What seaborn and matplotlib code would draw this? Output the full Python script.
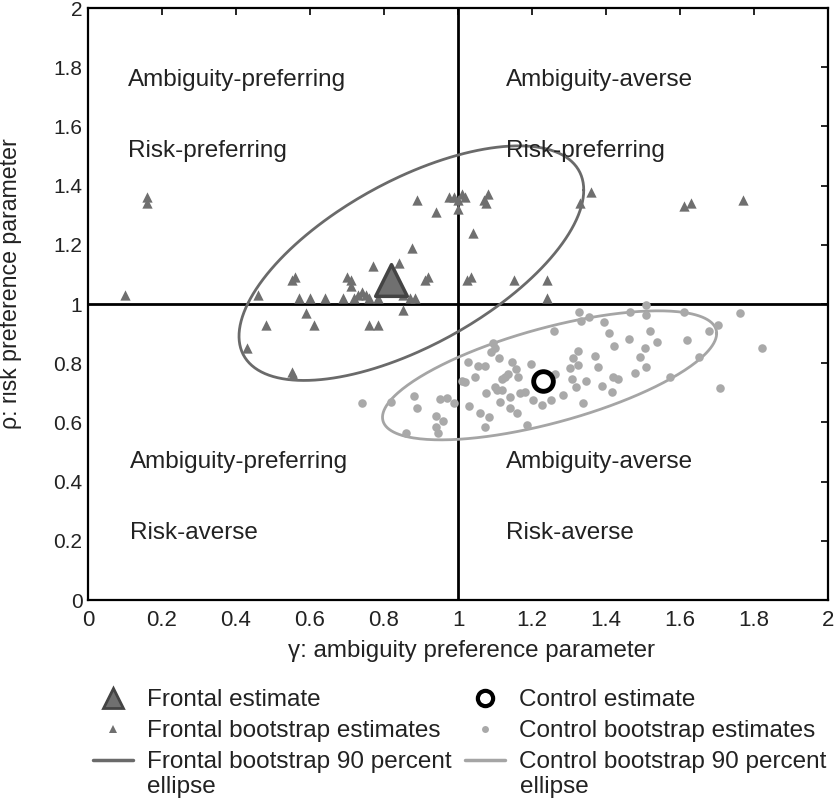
import numpy as np
import pandas as pd
import matplotlib
matplotlib.use("Agg")
import matplotlib.pyplot as plt
from matplotlib.lines import Line2D
import seaborn as sns

# ---------------- data ----------------
frontal_gamma = [0.10, 0.16, 0.16, 0.43, 0.46, 0.48, 0.55, 0.555, 0.55, 0.56, 0.57, 0.59,
                 0.60, 0.61, 0.64, 0.69, 0.70, 0.71, 0.71, 0.72, 0.73, 0.74, 0.75, 0.76,
                 0.785, 0.76, 0.785, 0.77, 0.84, 0.85, 0.85, 0.87, 0.885, 0.875, 0.91, 0.92,
                 0.89, 0.94, 0.975, 0.99, 1.00, 1.01, 1.02, 1.00, 1.07, 1.08, 1.075, 1.04,
                 1.025, 1.035, 1.15, 1.24, 1.24, 1.33, 1.36, 1.61, 1.63, 1.77]
frontal_rho = [1.03, 1.36, 1.34, 0.85, 1.03, 0.93, 0.77, 0.76, 1.08, 1.09, 1.02, 0.97,
               1.02, 0.93, 1.02, 1.02, 1.09, 1.08, 1.06, 1.02, 1.03, 1.04, 1.03, 1.02,
               1.02, 0.93, 0.93, 1.13, 1.14, 1.03, 0.98, 1.02, 1.02, 1.19, 1.08, 1.09,
               1.35, 1.31, 1.36, 1.36, 1.35, 1.37, 1.36, 1.32, 1.35, 1.37, 1.34, 1.24,
               1.08, 1.09, 1.08, 1.08, 1.02, 1.34, 1.38, 1.33, 1.34, 1.35]

control_gamma = [0.74, 0.82, 0.88, 0.89, 0.86, 0.94, 0.94, 0.945, 0.96, 0.95, 0.97, 0.99,
                 1.01, 1.02, 1.026, 1.03, 1.046, 1.055, 1.073, 1.06, 1.073, 1.085, 1.077,
                 1.10, 1.106, 1.12, 1.114, 1.095, 1.10, 1.09, 1.112, 1.118, 1.127, 1.134,
                 1.141, 1.141, 1.147, 1.158, 1.163, 1.16, 1.168, 1.181, 1.186, 1.197, 1.204,
                 1.228, 1.25, 1.262, 1.259, 1.285, 1.303, 1.309, 1.312, 1.323, 1.325, 1.319,
                 1.339, 1.328, 1.332, 1.346, 1.354, 1.37, 1.379, 1.39, 1.395, 1.409, 1.415,
                 1.422, 1.42, 1.433, 1.463, 1.465, 1.478, 1.492, 1.505, 1.507, 1.507, 1.508,
                 1.519, 1.539, 1.573, 1.612, 1.618, 1.651, 1.679, 1.704, 1.708, 1.762, 1.821]
control_rho = [0.664, 0.670, 0.689, 0.650, 0.563, 0.622, 0.586, 0.563, 0.606, 0.679, 0.681, 0.664,
               0.740, 0.735, 0.805, 0.655, 0.752, 0.790, 0.790, 0.631, 0.586, 0.617, 0.698,
               0.720, 0.709, 0.709, 0.670, 0.867, 0.850, 0.839, 0.819, 0.746, 0.754, 0.762,
               0.687, 0.648, 0.805, 0.779, 0.752, 0.631, 0.698, 0.704, 0.591, 0.797, 0.676,
               0.659, 0.676, 0.762, 0.909, 0.693, 0.785, 0.747, 0.819, 0.841, 0.794, 0.719,
               0.664, 0.974, 0.944, 0.741, 0.957, 0.824, 0.788, 0.723, 0.940, 0.901, 0.702,
               0.859, 0.752, 0.746, 0.882, 0.974, 0.768, 0.820, 0.850, 0.788, 0.997, 0.963,
               0.910, 0.873, 0.754, 0.974, 0.880, 0.822, 0.909, 0.929, 0.717, 0.969, 0.852]

frontal_estimate = (0.82, 1.08)
control_estimate = (1.23, 0.74)

# 90% ellipses: centre and scaled covariance
frontal_ell_center = (0.874, 1.138)
frontal_ell_cov = [[0.217, 0.115], [0.115, 0.157]]
control_ell_center = (1.2475, 0.759)
control_ell_cov = [[0.2039, 0.064], [0.064, 0.0475]]

quadrant_text = [
    (0.108, 1.758, "Ambiguity-preferring"),
    (0.108, 1.518, "Risk-preferring"),
    (1.13, 1.758, "Ambiguity-averse"),
    (1.13, 1.518, "Risk-preferring"),
    (0.113, 0.465, "Ambiguity-preferring"),
    (0.113, 0.226, "Risk-averse"),
    (1.13, 0.465, "Ambiguity-averse"),
    (1.13, 0.226, "Risk-averse"),
]
ticks = [0, 0.2, 0.4, 0.6, 0.8, 1, 1.2, 1.4, 1.6, 1.8, 2]
tick_labels = ["0", "0.2", "0.4", "0.6", "0.8", "1", "1.2", "1.4", "1.6", "1.8", "2"]

frontal_labels = ["Frontal estimate", "Frontal bootstrap estimates", "Frontal bootstrap 90 percent"]
control_labels = ["Control estimate", "Control bootstrap estimates", "Control bootstrap 90 percent"]
wrap_label = "ellipse"

# ---------------- style ----------------
sns.set_theme(style="white")
plt.rcParams["font.family"] = ["Liberation Sans", "DejaVu Sans"]

FRONT_C = "#6f6f6f"
CTRL_C = "#a9a9a9"
TXT_C = "#222222"

fig = plt.figure(figsize=(8.36, 7.99), dpi=100)
ax = fig.add_axes([88 / 836, 1 - 600 / 799, (828 - 88) / 836, (600 - 8) / 799])


def ellipse_points(center, cov, n=300):
    t = np.linspace(0, 2 * np.pi, n)
    L = np.linalg.cholesky(np.array(cov))
    pts = L @ np.vstack([np.cos(t), np.sin(t)])
    return pd.DataFrame({"g": pts[0] + center[0], "r": pts[1] + center[1]})


# reference lines
ax.axvline(1, color="black", lw=2.0, zorder=1)
ax.axhline(1, color="black", lw=2.0, zorder=1)

fe = ellipse_points(frontal_ell_center, frontal_ell_cov)
ce = ellipse_points(control_ell_center, control_ell_cov)
sns.lineplot(data=fe, x="g", y="r", sort=False, estimator=None, color="#6a6a6a", lw=2.0, ax=ax, zorder=2)
sns.lineplot(data=ce, x="g", y="r", sort=False, estimator=None, color="#a5a5a5", lw=2.0, ax=ax, zorder=2)

cdf = pd.DataFrame({"g": control_gamma, "r": control_rho})
fdf = pd.DataFrame({"g": frontal_gamma, "r": frontal_rho})
sns.scatterplot(data=cdf, x="g", y="r", marker="o", s=38, color=CTRL_C, linewidth=0, ax=ax, zorder=3)
sns.scatterplot(data=fdf, x="g", y="r", marker="^", s=55, color=FRONT_C, linewidth=0, ax=ax, zorder=3)
sns.scatterplot(x=[frontal_estimate[0]], y=[frontal_estimate[1]], marker="^", s=520,
                color="#707070", edgecolor="#444444", linewidth=2.5, ax=ax, zorder=4)
sns.scatterplot(x=[control_estimate[0]], y=[control_estimate[1]], marker="o", s=200,
                color="white", edgecolor="black", linewidth=3.5, ax=ax, zorder=4)

for x, y, s in quadrant_text:
    ax.text(x, y, s, fontsize=17.5, ha="left", va="center", color=TXT_C)

ax.set_xlim(0, 2)
ax.set_ylim(0, 2)
ax.set_xticks(ticks)
ax.set_yticks(ticks)
ax.set_xticklabels(tick_labels, fontsize=16)
ax.set_yticklabels(tick_labels, fontsize=15)
ax.tick_params(direction="in", length=5, width=1.2, top=True, right=True, colors="black",
               labelcolor=TXT_C)
ax.tick_params(axis="y", pad=4)
ax.tick_params(axis="x", pad=7)
for sp in ax.spines.values():
    sp.set_visible(True)
    sp.set_color("black")
    sp.set_linewidth(1.6)
ax.set_xlabel("γ: ambiguity preference parameter", fontsize=17.4, color=TXT_C, labelpad=6)
ax.xaxis.set_label_coords(0.5176, -0.068)
ax.set_ylabel("ρ: risk preference parameter", fontsize=16.7, color=TXT_C)
ax.yaxis.set_label_coords(-0.089, 0.535)

# legends
h1 = [
    Line2D([], [], marker="^", ls="none", ms=15, color="#707070", mec="#444444", mew=2),
    Line2D([], [], marker="^", ls="none", ms=6, color=FRONT_C, mew=0),
    Line2D([], [], color="#6a6a6a", lw=2.5),
]
h2 = [
    Line2D([], [], marker="o", ls="none", ms=11, mfc="white", mec="black", mew=3),
    Line2D([], [], marker="o", ls="none", ms=5, color=CTRL_C, mew=0),
    Line2D([], [], color="#a5a5a5", lw=2.5),
]
leg_kw = dict(frameon=False, prop={"size": 17.5}, handlelength=1.65,
              handletextpad=0.58, labelspacing=0.37, borderaxespad=0, borderpad=0,
              labelcolor=TXT_C)
fig.legend(h1, frontal_labels, loc="upper left", bbox_to_anchor=(93 / 836, 1 - 689 / 799), **leg_kw)
fig.legend(h2, control_labels, loc="upper left", bbox_to_anchor=(465 / 836, 1 - 689 / 799), **leg_kw)
fig.text(147 / 836, 1 - 787 / 799, wrap_label, fontsize=17.5, color=TXT_C, ha="left", va="center")
fig.text(520 / 836, 1 - 787 / 799, wrap_label, fontsize=17.5, color=TXT_C, ha="left", va="center")

fig.savefig("out.png", dpi=100)
